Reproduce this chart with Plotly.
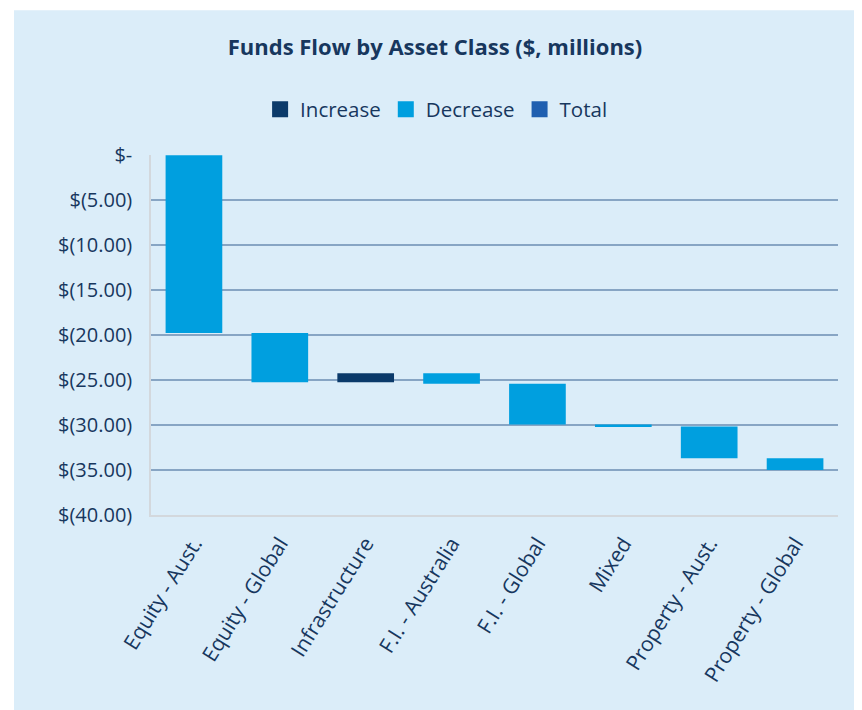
import plotly.graph_objects as go
import numpy as np

categories = ["Equity - Aust.", "Equity - Global", "Infrastructure", "F.I. - Australia",
              "F.I. - Global", "Mixed", "Property - Aust.", "Property - Global"]
changes = [-19.75, -5.5, 1.0, -1.15, -4.55, -0.2, -3.55, -1.3]
tick_vals = [0, -5, -10, -15, -20, -25, -30, -35, -40]
tick_text = ["$-", "$(5.00)", "$(10.00)", "$(15.00)", "$(20.00)", "$(25.00)",
             "$(30.00)", "$(35.00)", "$(40.00)"]
legend_names = ["Increase", "Decrease", "Total"]

BG = "#DBEDF9"
NAVY = "#17375E"
C_INC = "#0B3A6A"
C_DEC = "#009FDF"
C_TOT = "#1F5FB0"
FONT = "Open Sans"

ch = np.array(changes)
end = np.cumsum(ch)
start = end - ch
lo = np.minimum(start, end)
hgt = np.abs(ch)

inc_y = [h if c > 0 else None for h, c in zip(hgt, ch)]
dec_y = [h if c < 0 else None for h, c in zip(hgt, ch)]

fig = go.Figure()
fig.add_trace(go.Bar(name="Increase", x=categories, y=inc_y, base=lo,
                     marker=dict(color=C_INC, line=dict(width=0)), showlegend=False))
fig.add_trace(go.Bar(name="Decrease", x=categories, y=dec_y, base=lo,
                     marker=dict(color=C_DEC, line=dict(width=0)), showlegend=False))

for name, col in zip(legend_names, [C_INC, C_DEC, C_TOT]):
    fig.add_trace(go.Scatter(name=name, x=[None], y=[None], mode="markers",
                             marker=dict(symbol="square", size=16, color=col,
                                         line=dict(width=0))))

fig.add_shape(type="rect", xref="paper", yref="paper",
              x0=-0.1994, x1=1.2, y0=-1.0, y1=1.402,
              fillcolor=BG, line=dict(width=0), layer="below")

fig.update_layout(
    width=854, height=702,
    margin=dict(l=143, r=24, t=147, b=195),
    paper_bgcolor="white", plot_bgcolor=BG,
    barmode="overlay", bargap=0.34,
    font=dict(family=FONT, color=NAVY, size=20),
    title=dict(text="<b>Funds Flow by Asset Class ($, millions)</b>",
               x=0.5, xanchor="center", y=1 - 39 / 702, yanchor="middle",
               font=dict(family=FONT, size=22, color=NAVY)),
    legend=dict(orientation="h", x=0.415, xanchor="center", y=1.1266, yanchor="middle",
                font=dict(family=FONT, size=20.5, color=NAVY), bgcolor="rgba(0,0,0,0)",
                traceorder="normal", itemwidth=30),
    showlegend=True,
)
fig.update_yaxes(range=[-40, 0.03], tickvals=tick_vals, ticktext=tick_text,
                 showgrid=True, gridcolor="#87A5C4", gridwidth=1.5,
                 zeroline=False, showline=True, linecolor="#D3D8DD", linewidth=1.5,
                 ticks="", ticklabelstandoff=13, tickfont=dict(family=FONT, size=20, color=NAVY))
fig.update_xaxes(showgrid=False, showline=True, linecolor="#D3D8DD", linewidth=2,
                 tickangle=-58, ticks="", ticklabelstandoff=6,
                 tickfont=dict(family=FONT, size=21, color=NAVY))

fig.write_html("out.html")
